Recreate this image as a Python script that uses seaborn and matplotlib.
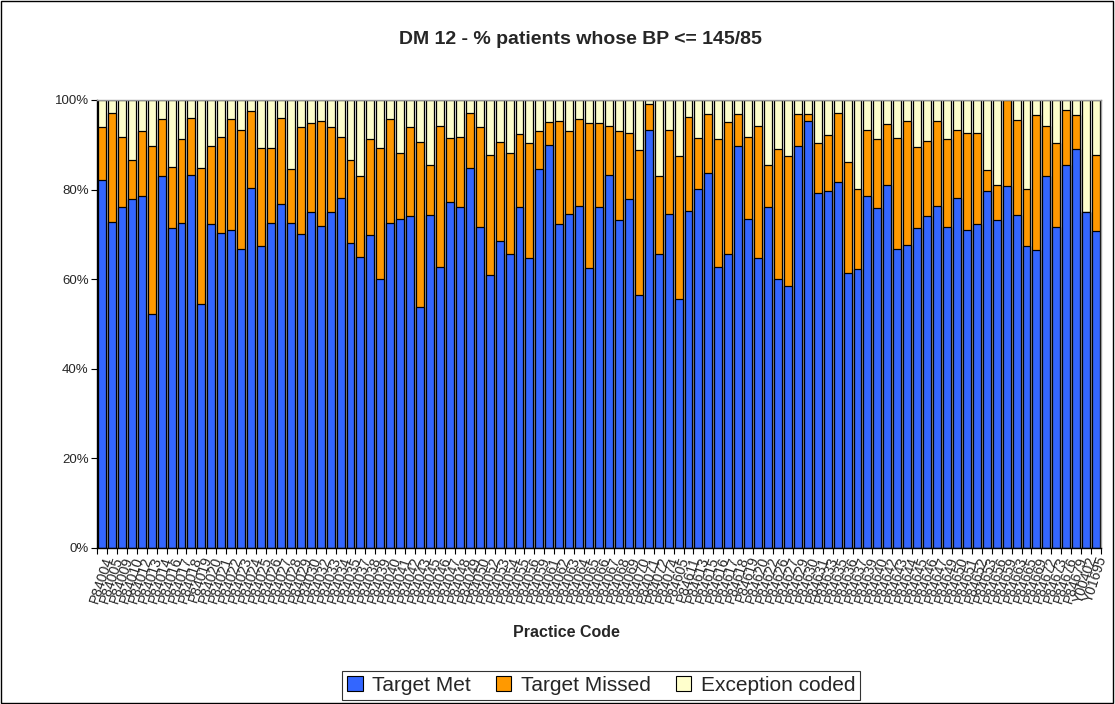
import matplotlib
matplotlib.use("Agg")
import matplotlib.pyplot as plt
import seaborn as sns
import numpy as np
from matplotlib.patches import Patch, Rectangle
from matplotlib.ticker import FixedLocator

codes = [
    "P84004", "P84005", "P84009", "P84010", "P84012", "P84013", "P84014", "P84016", "P84017", "P84018",
    "P84019", "P84020", "P84021", "P84022", "P84023", "P84024", "P84025", "P84026", "P84027", "P84028",
    "P84029", "P84030", "P84032", "P84033", "P84034", "P84035", "P84037", "P84038", "P84039", "P84040",
    "P84041", "P84042", "P84043", "P84045", "P84046", "P84047", "P84048", "P84049", "P84050", "P84052",
    "P84053", "P84054", "P84055", "P84056", "P84059", "P84061", "P84062", "P84063", "P84064", "P84065",
    "P84066", "P84067", "P84068", "P84069", "P84070", "P84071", "P84072", "P84074", "P84605", "P84611",
    "P84613", "P84615", "P84616", "P84617", "P84618", "P84619", "P84620", "P84622", "P84626", "P84627",
    "P84629", "P84630", "P84631", "P84633", "P84635", "P84636", "P84637", "P84639", "P84640", "P84642",
    "P84643", "P84644", "P84645", "P84646", "P84647", "P84649", "P84650", "P84651", "P84652", "P84653",
    "P84656", "P84659", "P84663", "P84665", "P84669", "P84672", "P84673", "P84676", "P84679", "Y00402",
    "Y01695",
]

target_met = [
    82.2, 72.8, 76.1, 77.9, 78.5, 52.3, 83.0, 71.3, 72.5, 83.3,
    54.4, 72.2, 70.4, 71.0, 66.8, 80.4, 67.4, 72.6, 76.7, 72.5,
    70.1, 74.9, 71.9, 74.9, 78.2, 68.0, 64.9, 69.8, 60.1, 72.6,
    73.4, 74.0, 53.8, 74.3, 62.8, 77.2, 76.1, 84.8, 71.6, 61.0,
    68.6, 65.7, 76.1, 64.6, 84.5, 89.9, 72.2, 74.6, 76.4, 62.5,
    76.1, 83.3, 73.1, 77.9, 56.5, 93.3, 65.7, 74.6, 55.6, 75.2,
    80.1, 83.6, 62.8, 65.7, 89.7, 73.5, 64.6, 76.1, 60.1, 58.4,
    89.7, 95.4, 79.2, 79.7, 81.6, 61.3, 62.2, 78.5, 75.8, 80.9,
    66.8, 67.7, 71.3, 74.1, 76.4, 71.6, 78.0, 71.0, 72.2, 79.7,
    73.1, 80.7, 74.3, 67.4, 66.5, 83.0, 71.7, 85.4, 89.0, 74.9,
    70.8,
]

target_missed = [
    11.7, 24.4, 15.6, 8.7, 14.5, 37.4, 12.7, 13.8, 18.7, 12.6,
    30.4, 17.5, 21.3, 24.7, 26.5, 17.1, 21.9, 16.7, 19.2, 12.1,
    23.8, 19.9, 23.5, 19.0, 13.5, 18.6, 18.1, 21.4, 29.2, 23.1,
    14.7, 19.9, 36.8, 11.1, 31.4, 14.2, 15.6, 12.4, 22.3, 26.8,
    22.0, 22.4, 16.3, 25.7, 8.5, 5.2, 23.2, 18.4, 19.3, 32.3,
    18.7, 10.9, 19.9, 14.8, 32.3, 5.7, 17.3, 18.7, 31.8, 21.1,
    11.3, 13.3, 28.4, 29.4, 7.2, 18.2, 29.6, 9.3, 29.0, 29.0,
    7.2, 1.5, 11.1, 12.4, 15.6, 24.8, 17.9, 14.8, 15.4, 13.7,
    24.7, 27.5, 18.1, 16.8, 18.8, 19.6, 15.3, 21.7, 20.5, 4.6,
    7.9, 19.3, 21.2, 12.7, 30.2, 11.2, 18.6, 12.4, 7.7, 0.0,
    17.0,
]

exception_coded = [
    6.1, 2.8, 8.3, 13.4, 7.0, 10.3, 4.3, 14.9, 8.8, 4.1,
    15.2, 10.3, 8.3, 4.3, 6.7, 2.5, 10.7, 10.7, 4.1, 15.4,
    6.1, 5.2, 4.6, 6.1, 8.3, 13.4, 17.0, 8.8, 10.7, 4.3,
    11.9, 6.1, 9.4, 14.6, 5.8, 8.6, 8.3, 2.8, 6.1, 12.2,
    9.4, 11.9, 7.6, 9.7, 7.0, 4.9, 4.6, 7.0, 4.3, 5.2,
    5.2, 5.8, 7.0, 7.3, 11.2, 1.0, 17.0, 6.7, 12.6, 3.7,
    8.6, 3.1, 8.8, 4.9, 3.1, 8.3, 5.8, 14.6, 10.9, 12.6,
    3.1, 3.1, 9.7, 7.9, 2.8, 13.9, 19.9, 6.7, 8.8, 5.4,
    8.5, 4.8, 10.6, 9.1, 4.8, 8.8, 6.7, 7.3, 7.3, 15.7,
    19.0, 0.0, 4.5, 19.9, 3.3, 5.8, 9.7, 2.2, 3.3, 25.1,
    12.2,
]

series_names = ["Target Met", "Target Missed", "Exception coded"]
colors = ["#3366FF", "#FF9900", "#FFFFCC"]

sns.set_theme(style="white")
plt.rcParams["font.family"] = ["Liberation Sans", "DejaVu Sans"]

fig = plt.figure(figsize=(11.15, 7.04), dpi=100)
ax = fig.add_axes([0.087, 0.222, 0.9005, 0.636])

met = np.array(target_met)
missed = np.array(target_missed)
exc = np.array(exception_coded)

layers = [met + missed + exc, met + missed, met]
layer_colors = [colors[2], colors[1], colors[0]]
for heights, col in zip(layers, layer_colors):
    sns.barplot(x=codes, y=heights, color=col, saturation=1, width=0.8,
                edgecolor="black", linewidth=0.9, ax=ax, zorder=2)

n = len(codes)
ax.set_xlim(-0.5, n - 0.5)
ax.set_ylim(0, 100)
ax.set_yticks([0, 20, 40, 60, 80, 100])
ax.set_yticklabels([f"{v}%" for v in [0, 20, 40, 60, 80, 100]], fontsize=9.5)
ax.set_xticks(range(n))
ax.set_xticklabels(codes, rotation=72, ha="right", va="top",
                   rotation_mode="anchor", fontsize=10)
ax.xaxis.set_minor_locator(FixedLocator(np.arange(-0.5, n, 1.0)))
ax.tick_params(axis="x", which="major", length=0, pad=5)
ax.tick_params(axis="x", which="minor", length=4, width=0.8, color="black", direction="out", bottom=True)
ax.tick_params(axis="y", which="major", length=4, width=0.8, color="black", direction="out", left=True, pad=2)

for side in ["left", "bottom"]:
    ax.spines[side].set_color("black")
    ax.spines[side].set_linewidth(1.0)
for side in ["top", "right"]:
    ax.spines[side].set_color("#999999")
    ax.spines[side].set_linewidth(1.0)
    ax.spines[side].set_visible(True)

ax.set_xlabel("Practice Code", fontsize=11.5, fontweight="bold")
ax.set_ylabel("")
ax.xaxis.set_label_coords(0.468, -0.172)
fig.suptitle("DM 12 - % patients whose BP <= 145/85", fontsize=14, fontweight="bold",
             x=0.521, y=0.956)

handles = [Patch(facecolor=c, edgecolor="black", linewidth=0.8) for c in colors]
leg = fig.legend(handles, series_names, loc="center", bbox_to_anchor=(0.539, 0.0265),
                 ncol=3, frameon=True, fancybox=False, edgecolor="black", fontsize=15,
                 handlelength=0.75, handleheight=0.75, handletextpad=0.45, columnspacing=1.2,
                 borderpad=0.25)
leg.get_frame().set_linewidth(0.8)

fig.patches.append(Rectangle((0.001, 0.001), 0.997, 0.997, transform=fig.transFigure,
                             fill=False, edgecolor="black", linewidth=1.0))

fig.savefig("out.png", dpi=100)
